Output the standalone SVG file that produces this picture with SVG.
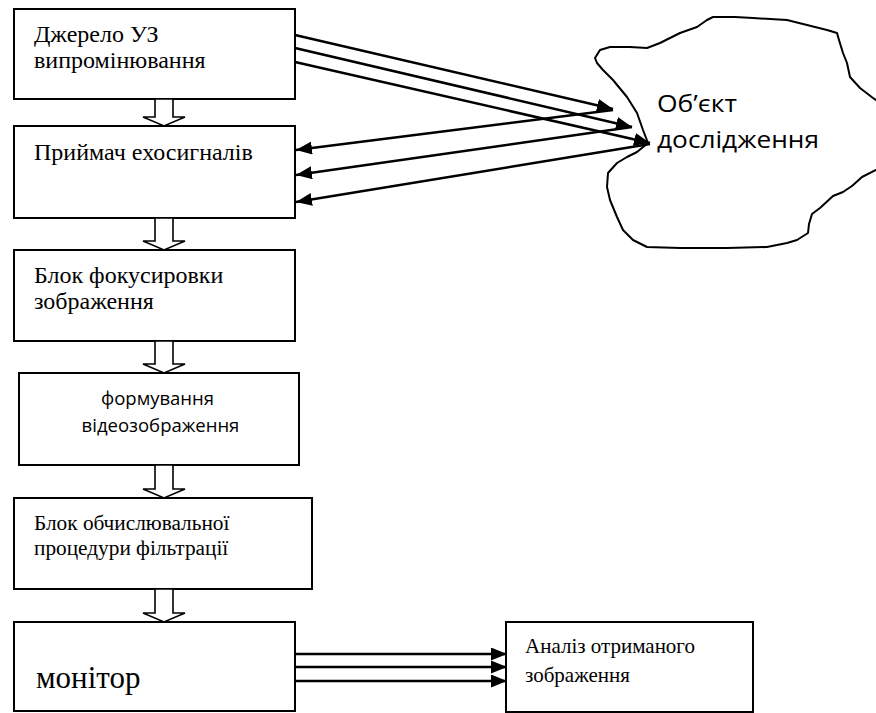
<svg xmlns="http://www.w3.org/2000/svg" width="876" height="713" viewBox="0 0 876 713">
  <style>
    .box { fill: #fff; stroke: #000; stroke-width: 2; }
    .serif { font-family: "Liberation Serif", "Times New Roman", serif; fill: #000; }
    .sans { font-family: "Open Sans", "Noto Sans", sans-serif; fill: #000; }
    .ray { stroke: #000; stroke-width: 2.5; fill: none; }
    .flow { fill: #fff; stroke: #000; stroke-width: 1.6; stroke-linejoin: miter; }
    .cloud { fill: #fff; stroke: #000; stroke-width: 2; stroke-linejoin: round; }
  </style>
  <defs>
    <marker id="head" markerUnits="userSpaceOnUse" markerWidth="17" markerHeight="13" refX="16" refY="6.5" orient="auto">
      <path d="M0,0 L16,6.5 L0,13 z" fill="#000"/>
    </marker>
  </defs>

  <rect width="876" height="713" fill="#fff"/>

  <!-- object under study -->
  <g id="object">
    <path class="cloud" d="M595,58 L600,50 L610,47 L630,47 L647,48 L660,43 L680,33 L697,27 L707,20 L713,17 L735,17 L753,18 L787,20 L807,25 L827,30 L837,33 L839,40 L843,53 L847,63 L850,77 L860,88 L873,98 L882,104 L882,168 L876,170 L862,177 L852,186 L843,192 L833,196 L820,208 L812,214 L809,224 L808,233 L797,240 L787,243 L767,247 L727,248 L680,248 L647,247 L633,240 L623,230 L617,217 L610,200 L607,187 L608,173 L617,163 L627,157 L637,152 L648,143 L643,130 L637,113 L627,97 L613,80 L603,70 L597,63 Z"/>
    <text class="sans" font-size="23" x="657" y="112" textLength="80" lengthAdjust="spacingAndGlyphs">Об’єкт</text>
    <text class="sans" font-size="23" x="657" y="148" textLength="162" lengthAdjust="spacingAndGlyphs">дослідження</text>
  </g>

  <!-- ultrasound source -->
  <g id="source">
    <rect class="box" x="14" y="9" width="281" height="90"/>
    <text class="serif" font-size="24" x="34" y="42">Джерело УЗ</text>
    <text class="serif" font-size="24" x="34" y="68">випромінювання</text>
  </g>

  <!-- echo receiver -->
  <g id="receiver">
    <rect class="box" x="14" y="126" width="281" height="92"/>
    <text class="serif" font-size="24" x="34" y="160">Приймач ехосигналів</text>
  </g>

  <!-- focusing block -->
  <g id="focus">
    <rect class="box" x="14" y="250" width="281" height="91"/>
    <text class="serif" font-size="24" x="34" y="283">Блок фокусировки</text>
    <text class="serif" font-size="24" x="34" y="309">зображення</text>
  </g>

  <!-- video image forming -->
  <g id="video">
    <rect class="box" x="19" y="373" width="280" height="92"/>
    <text class="sans" font-size="18.5" x="157.5" y="405" text-anchor="middle">формування</text>
    <text class="sans" font-size="18.5" x="160.5" y="432" text-anchor="middle">відеозображення</text>
  </g>

  <!-- filtering procedure -->
  <g id="filter">
    <rect class="box" x="14" y="498" width="298" height="91"/>
    <text class="serif" font-size="21.3" x="34" y="530">Блок обчислювальної</text>
    <text class="serif" font-size="21.3" x="34" y="555">процедури фільтрації</text>
  </g>

  <!-- monitor -->
  <g id="monitor">
    <rect class="box" x="14" y="622" width="281" height="89"/>
    <text class="serif" font-size="31" x="36" y="688">монітор</text>
  </g>

  <!-- image analysis -->
  <g id="analysis">
    <rect class="box" x="506" y="622" width="247" height="90"/>
    <text class="serif" font-size="21" x="525" y="653">Аналіз отриманого</text>
    <text class="serif" font-size="21" x="525" y="682">зображення</text>
  </g>

  <!-- connectors -->
  <g id="connectors">
    <!-- emitted rays -->
    <line class="ray" x1="295" y1="35" x2="613" y2="109" marker-end="url(#head)"/>
    <line class="ray" x1="295" y1="48" x2="632" y2="127" marker-end="url(#head)"/>
    <line class="ray" x1="295" y1="62" x2="650" y2="143" marker-end="url(#head)"/>
    <!-- echoes -->
    <line class="ray" x1="613" y1="110" x2="296" y2="150" marker-end="url(#head)"/>
    <line class="ray" x1="632" y1="127" x2="296" y2="175" marker-end="url(#head)"/>
    <line class="ray" x1="650" y1="144" x2="296" y2="202" marker-end="url(#head)"/>
    <!-- hollow flow arrows -->
    <path class="flow" d="M155,99 L155,117 L143,117 L164,126 L185,117 L173,117 L173,99 Z"/>
    <path class="flow" d="M155,218 L155,241 L143,241 L164,250 L185,241 L173,241 L173,218 Z"/>
    <path class="flow" d="M155,341 L155,364 L143,364 L164,373 L185,364 L173,364 L173,341 Z"/>
    <path class="flow" d="M155,465 L155,489 L143,489 L164,498 L185,489 L173,489 L173,465 Z"/>
    <path class="flow" d="M155,589 L155,613 L143,613 L164,622 L185,613 L173,613 L173,589 Z"/>
    <!-- monitor to analysis -->
    <line class="ray" x1="295" y1="654" x2="507" y2="654" marker-end="url(#head)"/>
    <line class="ray" x1="295" y1="667" x2="507" y2="667" marker-end="url(#head)"/>
    <line class="ray" x1="295" y1="681" x2="507" y2="681" marker-end="url(#head)"/>
  </g>
</svg>
